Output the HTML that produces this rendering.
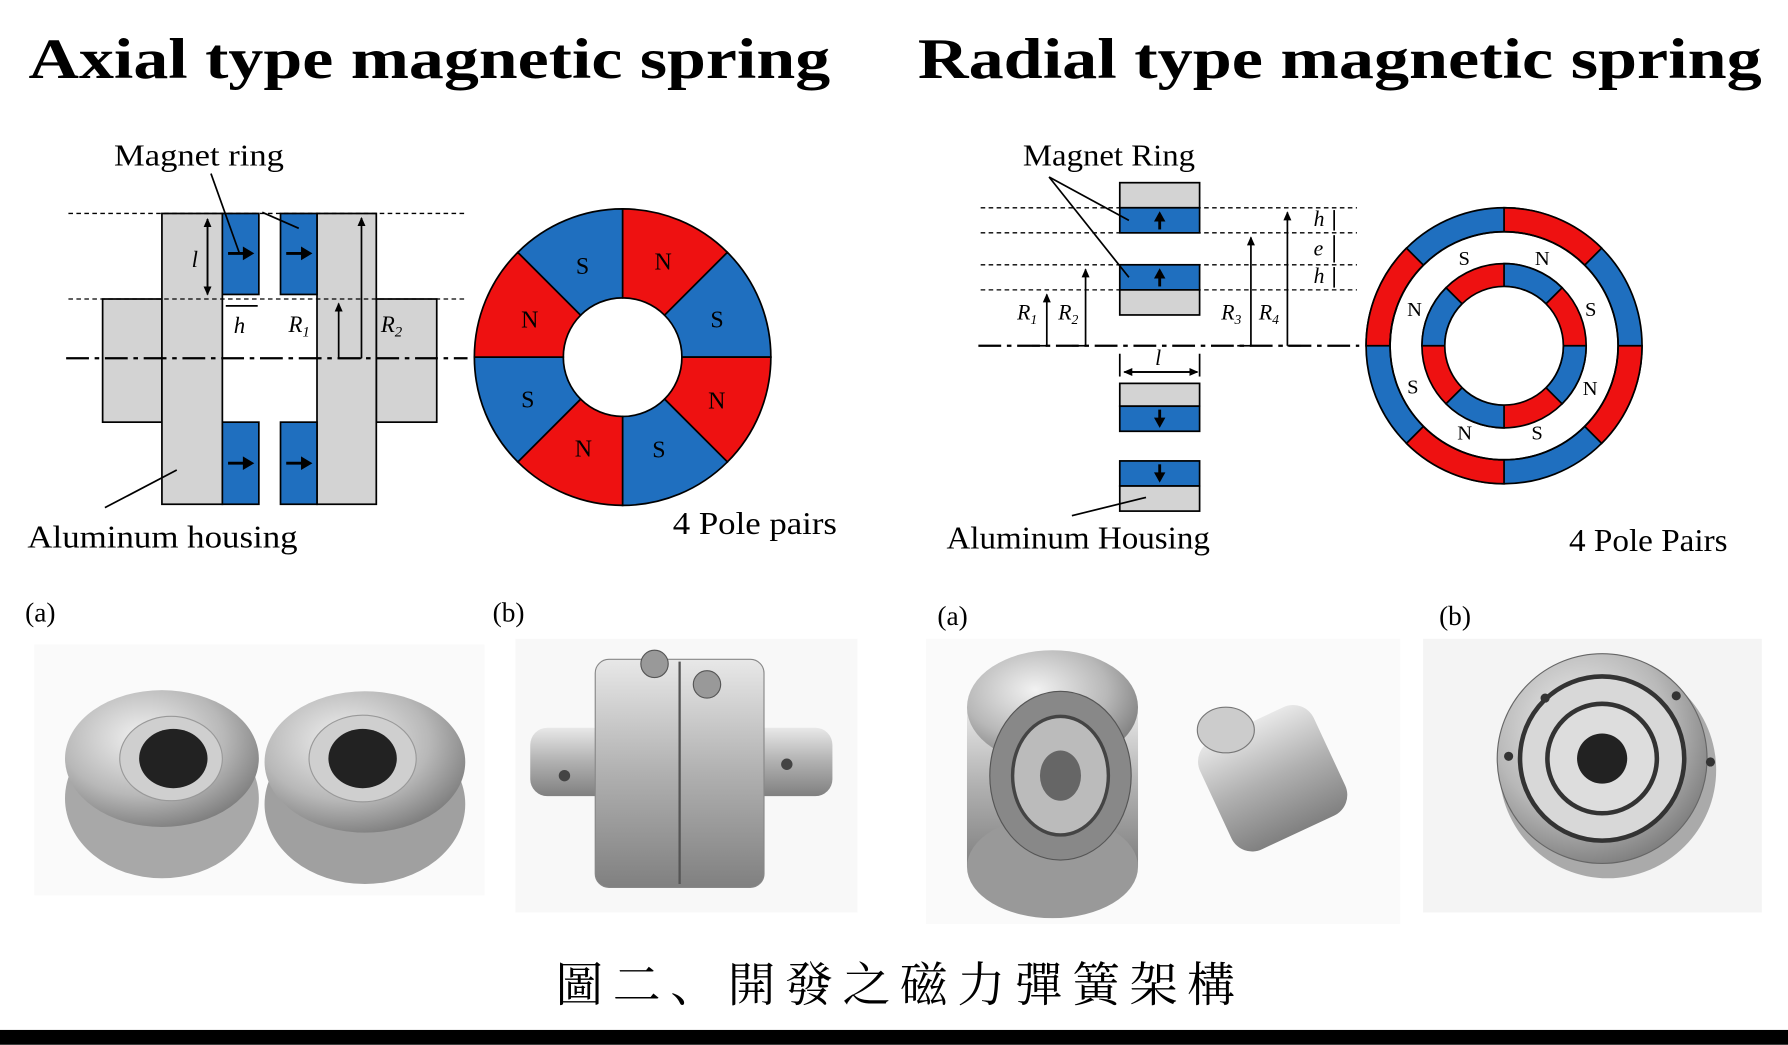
<!DOCTYPE html>
<html><head><meta charset="utf-8"><style>
html,body{margin:0;padding:0;background:#fff;width:1788px;height:1045px;overflow:hidden}
svg{display:block}
text{font-family:"Liberation Serif","Noto Serif CJK SC",serif}
</style></head><body>
<svg width="1788" height="1045" viewBox="0 0 1568 916" xmlns="http://www.w3.org/2000/svg">
<defs>
<marker id="ar" markerUnits="userSpaceOnUse" markerWidth="8" markerHeight="8" refX="7" refY="4" orient="auto"><path d="M0,0.5 L8,4 L0,7.5 z" fill="#000"/></marker>
<radialGradient id="met" cx="40%" cy="35%" r="70%"><stop offset="0" stop-color="#f2f2f2"/><stop offset="0.6" stop-color="#b8b8b8"/><stop offset="1" stop-color="#7a7a7a"/></radialGradient>
<linearGradient id="metl" x1="0" y1="0" x2="0" y2="1"><stop offset="0" stop-color="#e8e8e8"/><stop offset="0.5" stop-color="#b0b0b0"/><stop offset="1" stop-color="#808080"/></linearGradient>
</defs>
<rect width="1568" height="916" fill="#fff"/>

<!-- Photos (drawn first so labels are on top) -->
<rect x="30" y="565" width="395" height="220" fill="#fafafa"/>
<g>
<ellipse cx="142" cy="700" rx="85" ry="70" fill="#a8a8a8"/>
<ellipse cx="142" cy="665" rx="85" ry="60" fill="url(#met)"/>
<ellipse cx="150" cy="665" rx="45" ry="37" fill="#cfcfcf" stroke="#999"/>
<ellipse cx="152" cy="665" rx="30" ry="26" fill="#222"/>
<ellipse cx="320" cy="705" rx="88" ry="70" fill="#a0a0a0"/>
<ellipse cx="320" cy="668" rx="88" ry="62" fill="url(#met)"/>
<ellipse cx="318" cy="665" rx="47" ry="38" fill="#cfcfcf" stroke="#999"/>
<ellipse cx="318" cy="665" rx="30" ry="26" fill="#222"/>
</g>
<rect x="452" y="560" width="300" height="240" fill="#f8f8f8"/>
<g>
<rect x="465" y="638" width="265" height="60" rx="15" fill="url(#metl)"/>
<rect x="522" y="578" width="148" height="200" rx="12" fill="url(#metl)" stroke="#888"/>
<line x1="596" y1="580" x2="596" y2="775" stroke="#555" stroke-width="2"/>
<circle cx="574" cy="582" r="12" fill="#999" stroke="#555"/>
<circle cx="620" cy="600" r="12" fill="#999" stroke="#555"/>
<circle cx="495" cy="680" r="5" fill="#444"/><circle cx="690" cy="670" r="5" fill="#444"/>
</g>
<rect x="812" y="560" width="416" height="250" fill="#fafafa"/>
<g>
<rect x="848" y="620" width="150" height="140" fill="url(#metl)"/>
<ellipse cx="923" cy="620" rx="75" ry="50" fill="url(#met)"/>
<ellipse cx="923" cy="760" rx="75" ry="45" fill="#999"/>
<ellipse cx="930" cy="680" rx="62" ry="74" fill="#888" stroke="#555"/>
<ellipse cx="930" cy="680" rx="42" ry="52" fill="#bbb" stroke="#444" stroke-width="3"/>
<ellipse cx="930" cy="680" rx="18" ry="22" fill="#666"/>
<rect x="1060" y="630" width="110" height="105" rx="20" fill="url(#metl)" transform="rotate(-25 1115 680)"/>
<ellipse cx="1075" cy="640" rx="25" ry="20" fill="#ccc" stroke="#777"/>
</g>
<rect x="1248" y="560" width="297" height="240" fill="#f4f4f4"/>
<g>
<circle cx="1410" cy="675" r="95" fill="#aaa"/>
<circle cx="1405" cy="665" r="92" fill="url(#met)" stroke="#666"/>
<circle cx="1405" cy="665" r="72" fill="#d8d8d8" stroke="#333" stroke-width="4"/>
<circle cx="1405" cy="665" r="48" fill="#ddd" stroke="#333" stroke-width="4"/>
<circle cx="1405" cy="665" r="22" fill="#222"/>
<circle cx="1323" cy="663" r="4" fill="#333"/><circle cx="1500" cy="668" r="4" fill="#333"/>
<circle cx="1470" cy="610" r="4" fill="#333"/><circle cx="1355" cy="612" r="4" fill="#333"/>
</g>
<g font-size="24"><text x="22" y="545">(a)</text><text x="432" y="545">(b)</text><text x="822" y="548">(a)</text><text x="1262" y="548">(b)</text></g>

<text x="25" y="68" font-size="50" font-weight="bold" textLength="703" lengthAdjust="spacingAndGlyphs">Axial type magnetic spring</text>
<text x="805" y="68" font-size="50" font-weight="bold" textLength="740" lengthAdjust="spacingAndGlyphs">Radial type magnetic spring</text>

<!-- Axial diagram -->
<g stroke="#000" stroke-width="1.5">
<rect x="90" y="262" width="52" height="108" fill="#d3d3d3"/>
<rect x="142" y="187" width="53" height="255" fill="#d3d3d3"/>
<rect x="330" y="262" width="53" height="108" fill="#d3d3d3"/>
<rect x="278" y="187" width="52" height="255" fill="#d3d3d3"/>
<rect x="195" y="187" width="32" height="71" fill="#1f6fbf"/>
<rect x="246" y="187" width="32" height="71" fill="#1f6fbf"/>
<rect x="195" y="370" width="32" height="72" fill="#1f6fbf"/>
<rect x="246" y="370" width="32" height="72" fill="#1f6fbf"/>
</g>
<g stroke="#000" stroke-width="2.5">
<line x1="200" y1="222" x2="215" y2="222"/><line x1="251" y1="222" x2="266" y2="222"/>
<line x1="200" y1="406" x2="215" y2="406"/><line x1="251" y1="406" x2="266" y2="406"/>
</g>
<g fill="#000">
<polygon points="213,216 223,222 213,228"/><polygon points="264,216 274,222 264,228"/>
<polygon points="213,400 223,406 213,412"/><polygon points="264,400 274,406 264,412"/>
</g>
<g stroke="#000" stroke-width="1.2" stroke-dasharray="4,3">
<line x1="60" y1="187" x2="410" y2="187"/><line x1="60" y1="262" x2="410" y2="262"/>
</g>
<line x1="58" y1="314" x2="410" y2="314" stroke="#000" stroke-width="2" stroke-dasharray="20,5,4,5"/>
<g stroke="#000" stroke-width="1.5">
<line x1="182" y1="192" x2="182" y2="258" marker-end="url(#ar)"/><line x1="182" y1="258" x2="182" y2="192" marker-end="url(#ar)"/>
<line x1="198" y1="268" x2="226" y2="268"/>
<line x1="297" y1="314" x2="297" y2="266" marker-end="url(#ar)"/><line x1="297" y1="314" x2="317" y2="314"/>
<line x1="317" y1="314" x2="317" y2="191" marker-end="url(#ar)"/>
<line x1="210" y1="222" x2="185" y2="152"/><line x1="262" y1="200" x2="230" y2="186"/>
<line x1="92" y1="445" x2="155" y2="412"/>
</g>
<text x="100" y="145" font-size="27" textLength="149" lengthAdjust="spacingAndGlyphs">Magnet ring</text>
<text x="168" y="234" font-size="20" font-style="italic">l</text>
<text x="205" y="292" font-size="20" font-style="italic">h</text>
<text x="253" y="291" font-size="20" font-style="italic">R<tspan font-size="13" dy="4">1</tspan></text>
<text x="334" y="291" font-size="20" font-style="italic">R<tspan font-size="13" dy="4">2</tspan></text>
<text x="24" y="480" font-size="28" textLength="237" lengthAdjust="spacingAndGlyphs">Aluminum housing</text>
<text x="590" y="468" font-size="28" textLength="144" lengthAdjust="spacingAndGlyphs">4 Pole pairs</text>

<!-- Axial ring -->
<g transform="translate(546,313)" stroke="#000" stroke-width="1.5">
<path d="M0,-130 A130,130 0 0 1 91.9,-91.9 L36.8,-36.8 A52,52 0 0 0 0,-52 Z" fill="#ee1111"/>
<path d="M91.9,-91.9 A130,130 0 0 1 130,0 L52,0 A52,52 0 0 0 36.8,-36.8 Z" fill="#1f6fbf"/>
<path d="M130,0 A130,130 0 0 1 91.9,91.9 L36.8,36.8 A52,52 0 0 0 52,0 Z" fill="#ee1111"/>
<path d="M91.9,91.9 A130,130 0 0 1 0,130 L0,52 A52,52 0 0 0 36.8,36.8 Z" fill="#1f6fbf"/>
<path d="M0,130 A130,130 0 0 1 -91.9,91.9 L-36.8,36.8 A52,52 0 0 0 0,52 Z" fill="#ee1111"/>
<path d="M-91.9,91.9 A130,130 0 0 1 -130,0 L-52,0 A52,52 0 0 0 -36.8,36.8 Z" fill="#1f6fbf"/>
<path d="M-130,0 A130,130 0 0 1 -91.9,-91.9 L-36.8,-36.8 A52,52 0 0 0 -52,0 Z" fill="#ee1111"/>
<path d="M-91.9,-91.9 A130,130 0 0 1 0,-130 L0,-52 A52,52 0 0 0 -36.8,-36.8 Z" fill="#1f6fbf"/>
</g>
<g font-size="21" fill="#000">
<text x="574" y="236">N</text><text x="505" y="240">S</text><text x="623" y="287">S</text><text x="621" y="358">N</text>
<text x="572" y="401">S</text><text x="504" y="400">N</text><text x="457" y="357">S</text><text x="457" y="287">N</text>
</g>

<!-- Radial diagram -->
<g stroke="#000" stroke-width="1.5">
<rect x="982" y="160" width="70" height="22" fill="#d3d3d3"/><rect x="982" y="182" width="70" height="22" fill="#1f6fbf"/>
<rect x="982" y="232" width="70" height="22" fill="#1f6fbf"/><rect x="982" y="254" width="70" height="22" fill="#d3d3d3"/>
<rect x="982" y="336" width="70" height="20" fill="#d3d3d3"/><rect x="982" y="356" width="70" height="22" fill="#1f6fbf"/>
<rect x="982" y="404" width="70" height="22" fill="#1f6fbf"/><rect x="982" y="426" width="70" height="22" fill="#d3d3d3"/>
</g>
<g stroke="#000" stroke-width="2.5">
<line x1="1017" y1="201" x2="1017" y2="192"/><line x1="1017" y1="251" x2="1017" y2="242"/>
<line x1="1017" y1="359" x2="1017" y2="368"/><line x1="1017" y1="407" x2="1017" y2="416"/>
</g>
<g fill="#000">
<polygon points="1012,194 1017,185 1022,194"/><polygon points="1012,244 1017,235 1022,244"/>
<polygon points="1012,366 1017,375 1022,366"/><polygon points="1012,414 1017,423 1022,414"/>
</g>
<g stroke="#000" stroke-width="1.2" stroke-dasharray="4,3">
<line x1="860" y1="182" x2="1190" y2="182"/><line x1="860" y1="204" x2="1190" y2="204"/>
<line x1="860" y1="232" x2="1190" y2="232"/><line x1="860" y1="254" x2="1190" y2="254"/>
</g>
<line x1="858" y1="303" x2="1192" y2="303" stroke="#000" stroke-width="2" stroke-dasharray="20,5,4,5"/>
<g stroke="#000" stroke-width="1.5">
<line x1="918" y1="303" x2="918" y2="258" marker-end="url(#ar)"/><line x1="918" y1="303" x2="905" y2="303"/>
<line x1="952" y1="303" x2="952" y2="236" marker-end="url(#ar)"/><line x1="952" y1="303" x2="940" y2="303"/>
<line x1="1097" y1="303" x2="1097" y2="208" marker-end="url(#ar)"/><line x1="1097" y1="303" x2="1085" y2="303"/>
<line x1="1129" y1="303" x2="1129" y2="186" marker-end="url(#ar)"/><line x1="1129" y1="303" x2="1141" y2="303"/>
<line x1="1170" y1="184" x2="1170" y2="202"/><line x1="1170" y1="206" x2="1170" y2="230"/><line x1="1170" y1="234" x2="1170" y2="252"/>
<line x1="986" y1="326" x2="1050" y2="326" marker-end="url(#ar)"/><line x1="1050" y1="326" x2="986" y2="326" marker-end="url(#ar)"/>
<line x1="982" y1="310" x2="982" y2="330"/><line x1="1052" y1="310" x2="1052" y2="330"/>
<line x1="920" y1="155" x2="990" y2="193"/><line x1="920" y1="155" x2="990" y2="243"/>
<line x1="940" y1="452" x2="1005" y2="436"/>
</g>
<text x="897" y="145" font-size="27" textLength="151" lengthAdjust="spacingAndGlyphs">Magnet Ring</text>
<g font-size="19" font-style="italic">
<text x="1152" y="198">h</text><text x="1152" y="224">e</text><text x="1152" y="248">h</text>
<text x="892" y="280">R<tspan font-size="12" dy="4">1</tspan></text>
<text x="928" y="280">R<tspan font-size="12" dy="4">2</tspan></text>
<text x="1071" y="280">R<tspan font-size="12" dy="4">3</tspan></text>
<text x="1104" y="280">R<tspan font-size="12" dy="4">4</tspan></text>
<text x="1013" y="320">l</text>
</g>
<text x="830" y="481" font-size="28" textLength="231" lengthAdjust="spacingAndGlyphs">Aluminum Housing</text>
<text x="1376" y="483" font-size="28" textLength="139" lengthAdjust="spacingAndGlyphs">4 Pole Pairs</text>

<!-- Radial rings -->
<g transform="translate(1319,303)" stroke="#000" stroke-width="1.5">
<circle r="121" fill="#1f6fbf"/>
<path d="M0,-121 A121,121 0 0 1 85.6,-85.6 L70.7,-70.7 A100,100 0 0 0 0,-100 Z" fill="#ee1111"/>
<path d="M121,0 A121,121 0 0 1 85.6,85.6 L70.7,70.7 A100,100 0 0 0 100,0 Z" fill="#ee1111"/>
<path d="M0,121 A121,121 0 0 1 -85.6,85.6 L-70.7,70.7 A100,100 0 0 0 0,100 Z" fill="#ee1111"/>
<path d="M-121,0 A121,121 0 0 1 -85.6,-85.6 L-70.7,-70.7 A100,100 0 0 0 -100,0 Z" fill="#ee1111"/>
<circle r="100" fill="#fff"/>
<circle r="72" fill="#ee1111"/>
<path d="M0,-72 A72,72 0 0 1 50.9,-50.9 L36.8,-36.8 A52,52 0 0 0 0,-52 Z" fill="#1f6fbf"/>
<path d="M72,0 A72,72 0 0 1 50.9,50.9 L36.8,36.8 A52,52 0 0 0 52,0 Z" fill="#1f6fbf"/>
<path d="M0,72 A72,72 0 0 1 -50.9,50.9 L-36.8,36.8 A52,52 0 0 0 0,52 Z" fill="#1f6fbf"/>
<path d="M-72,0 A72,72 0 0 1 -50.9,-50.9 L-36.8,-36.8 A52,52 0 0 0 -52,0 Z" fill="#1f6fbf"/>
<circle r="52" fill="#fff"/>
<circle r="100" fill="none"/>
</g>
<g font-size="18">
<text x="1279" y="232">S</text><text x="1346" y="232">N</text><text x="1390" y="277">S</text><text x="1388" y="346">N</text>
<text x="1343" y="385">S</text><text x="1278" y="385">N</text><text x="1234" y="345">S</text><text x="1234" y="277">N</text>
</g>

<text x="487" y="878" font-size="42" textLength="596" lengthAdjust="spacing" font-family="'Noto Serif CJK SC','Noto Sans CJK TC',serif">圖二、開發之磁力彈簧架構</text>
<rect x="0" y="903" width="1568" height="13" fill="#000"/>
</svg>
</body></html>
